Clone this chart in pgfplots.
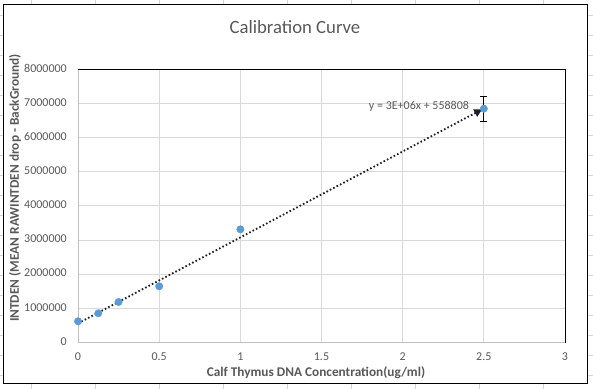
\documentclass[border=0pt]{standalone}
\usepackage{pgfplots}
\pgfplotsset{compat=1.18}
\usepackage{fontspec}
\setmainfont{Carlito}
\usetikzlibrary{arrows.meta}
\definecolor{txt}{HTML}{595959}
\definecolor{grd}{HTML}{D9D9D9}
\definecolor{cell}{HTML}{D4D4D4}
\definecolor{ax}{HTML}{BFBFBF}
\definecolor{pt}{HTML}{5B9BD5}
\definecolor{trend}{HTML}{1A1F2B}
\begin{document}
\begin{tikzpicture}[x=1pt,y=1pt]
\useasboundingbox (0,0) rectangle (593,389);
\fill[white] (0,0) rectangle (593,389);
\foreach \x in {31,95,...,543} \draw[cell,line width=0.8pt] (\x,0) -- (\x,389);
\foreach \y in {14,34,...,374} \draw[cell,line width=0.8pt] (0,\y) -- (593,\y);
\filldraw[fill=white,draw=black,line width=1pt] (3.5,6) rectangle (587,384);
\node[txt,font=\fontsize{18.7}{22}\selectfont] at (295,362) {Calibration Curve};
\begin{axis}[
  at={(78pt,46.5pt)}, anchor=south west,
  scale only axis, width=487pt, height=273.5pt,
  xmin=0, xmax=3, ymin=0, ymax=8000000,
  scaled y ticks=false,
  xtick={0,0.5,1,1.5,2,2.5,3},
  xticklabels={0,0.5,1,1.5,2,2.5,3},
  ytick={0,1000000,2000000,3000000,4000000,5000000,6000000,7000000,8000000},
  yticklabels={0,1000000,2000000,3000000,4000000,5000000,6000000,7000000,8000000},
  major tick length=0pt,
  grid=major, grid style={grd,line width=0.8pt},
  axis line style={draw=none},
  ticklabel style={txt,font=\fontsize{12}{14}\selectfont},
  xticklabel style={anchor=center,yshift=-14.5pt},
  yticklabel style={anchor=east,xshift=-7.7pt,yshift=1pt},
  xlabel={Calf Thymus DNA Concentration(ug/ml)},
  ylabel={INTDEN (MEAN RAWINTDEN drop - BackGround)},
  label style={txt,font=\bfseries\fontsize{13.3}{15}\selectfont},
  xlabel style={at={(axis description cs:0.4887,-0.1115)},anchor=center},
  ylabel style={at={(axis description cs:-0.1294,0.565)},anchor=center},
  clip=false,
]
\draw[ax,line width=0.8pt] (rel axis cs:0,1) -- (rel axis cs:0,0) -- (rel axis cs:1,0);
\draw[black,line width=0.8pt] (rel axis cs:0,1) -- (rel axis cs:1,1) -- (rel axis cs:1,0);
\addplot[draw=none, mark=none, forget plot,
  error bars/.cd, y dir=both, y explicit,
  error bar style={black,line width=0.8pt},
  error mark options={black,rotate=90,mark size=3.5pt,line width=0.8pt}]
  coordinates {(2.5,6840000) +- (0,360000)};
\addplot[only marks, mark=*, mark size=3.7pt, mark options={fill=pt,draw=pt}]
  coordinates {(0,620000) (0.125,855000) (0.25,1185000) (0.5,1644000) (1,3310000) (2.5,6840000)};
\addplot[trend, line width=1.8pt, dash pattern=on 1.6pt off 2.2pt,
  -{Triangle[length=8pt,width=8pt]}]
  coordinates {(0,558808) (2.49,6820000)};
\node[txt,anchor=east,font=\fontsize{12}{14}\selectfont] at (axis cs:2.43,6920000) {y = 3E+06x + 558808};
\end{axis}
\end{tikzpicture}
\end{document}
